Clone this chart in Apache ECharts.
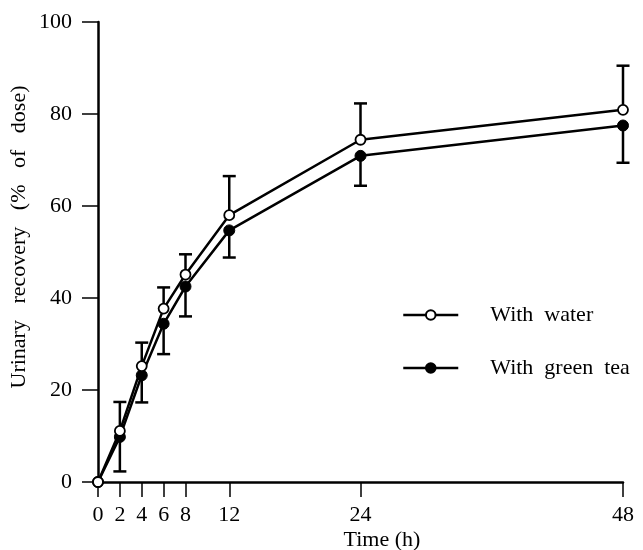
<!DOCTYPE html>
<html>
<head>
<meta charset="utf-8">
<title>Urinary recovery</title>
<script src="https://cdn.jsdelivr.net/npm/echarts@6/dist/echarts.min.js"></script>
<style>
  html, body { margin: 0; padding: 0; background: #fff; }
  #chart { width: 643px; height: 550px; }
</style>
</head>
<body>
<div id="chart"></div>
<script>
// time points (h)
const times = [0, 2, 4, 6, 8, 12, 24, 48];
const xTicks = [0, 2, 4, 6, 8, 12, 24, 48];
const yTicks = [0, 20, 40, 60, 80, 100];

// urinary recovery, % of dose
const waterMean = [0, 11.1, 25.2, 37.7, 45.1, 58.0, 74.4, 80.9];
const waterUpper = [0, 17.4, 30.3, 42.3, 49.5, 66.5, 82.3, 90.5];
const teaMean = [0, 9.8, 23.2, 34.4, 42.5, 54.7, 70.9, 77.5];
const teaLower = [0, 2.3, 17.3, 27.8, 36.0, 48.8, 64.4, 69.4];

const font = 'Liberation Serif';

const chart = echarts.init(document.getElementById('chart'));

// one-sided error bar with a cap
function errorBar(ends, means) {
  return {
    type: 'custom',
    silent: true,
    z: 1,
    data: times.slice(1).map((t, i) => [t, means[i + 1], ends[i + 1]]),
    renderItem: function (params, api) {
      const a = api.coord([api.value(0), api.value(1)]);
      const b = api.coord([api.value(0), api.value(2)]);
      const half = 6.5;
      const style = { stroke: '#000', lineWidth: 2.5 };
      return {
        type: 'group',
        children: [
          { type: 'line', shape: { x1: a[0], y1: a[1], x2: b[0], y2: b[1] }, style: style },
          { type: 'line', shape: { x1: b[0] - half, y1: b[1], x2: b[0] + half, y2: b[1] }, style: style }
        ]
      };
    }
  };
}

const option = {
  animation: false,
  backgroundColor: '#fff',
  grid: { left: 98, right: 20, top: 22, bottom: 68 },
  legend: {
    orient: 'vertical',
    left: 397,
    top: 299,
    itemWidth: 55,
    itemHeight: 12,
    itemGap: 31,
    lineStyle: { width: 2.5 },
    textStyle: { fontFamily: font, fontSize: 22, color: '#000', padding: [0, 0, 0, 27] },
    data: ['With water', 'With green tea'],
    formatter: (name) => name.replace(/ /g, '  ')
  },
  xAxis: {
    type: 'value',
    min: 0,
    max: 48,
    splitLine: { show: false },
    axisLine: { lineStyle: { color: '#000', width: 2.5 } },
    axisTick: { customValues: xTicks, length: 15, lineStyle: { color: '#000', width: 1.5 } },
    axisLabel: { customValues: xTicks, margin: 22, color: '#000', fontFamily: font, fontSize: 22 }
  },
  yAxis: {
    type: 'value',
    min: 0,
    max: 100,
    interval: 20,
    splitLine: { show: false },
    axisLine: { show: true, lineStyle: { color: '#000', width: 2.5 } },
    axisTick: { show: true, length: 16, lineStyle: { color: '#000', width: 1.5 } },
    axisLabel: { margin: 26, color: '#000', fontFamily: font, fontSize: 22 }
  },
  graphic: [
    {
      type: 'text',
      x: 19,
      y: 237,
      rotation: Math.PI / 2,
      style: {
        text: 'Urinary   recovery   (%   of   dose)',
        font: '22px ' + font,
        fill: '#000',
        align: 'center',
        verticalAlign: 'middle'
      }
    },
    {
      type: 'text',
      x: 382,
      y: 540,
      style: {
        text: 'Time (h)',
        font: '22px ' + font,
        fill: '#000',
        align: 'center',
        verticalAlign: 'middle'
      }
    }
  ],
  series: [
    errorBar(waterUpper, waterMean),
    errorBar(teaLower, teaMean),
    {
      name: 'With green tea',
      type: 'line',
      z: 3,
      data: times.map((t, i) => [t, teaMean[i]]),
      symbol: 'circle',
      symbolSize: 11,
      lineStyle: { color: '#000', width: 2.5 },
      itemStyle: { color: '#000', borderColor: '#000', borderWidth: 1 }
    },
    {
      name: 'With water',
      type: 'line',
      z: 4,
      data: times.map((t, i) => [t, waterMean[i]]),
      symbol: 'circle',
      symbolSize: 10,
      lineStyle: { color: '#000', width: 2.5 },
      itemStyle: { color: '#fff', borderColor: '#000', borderWidth: 1.8 }
    }
  ]
};

chart.setOption(option);
</script>
</body>
</html>
